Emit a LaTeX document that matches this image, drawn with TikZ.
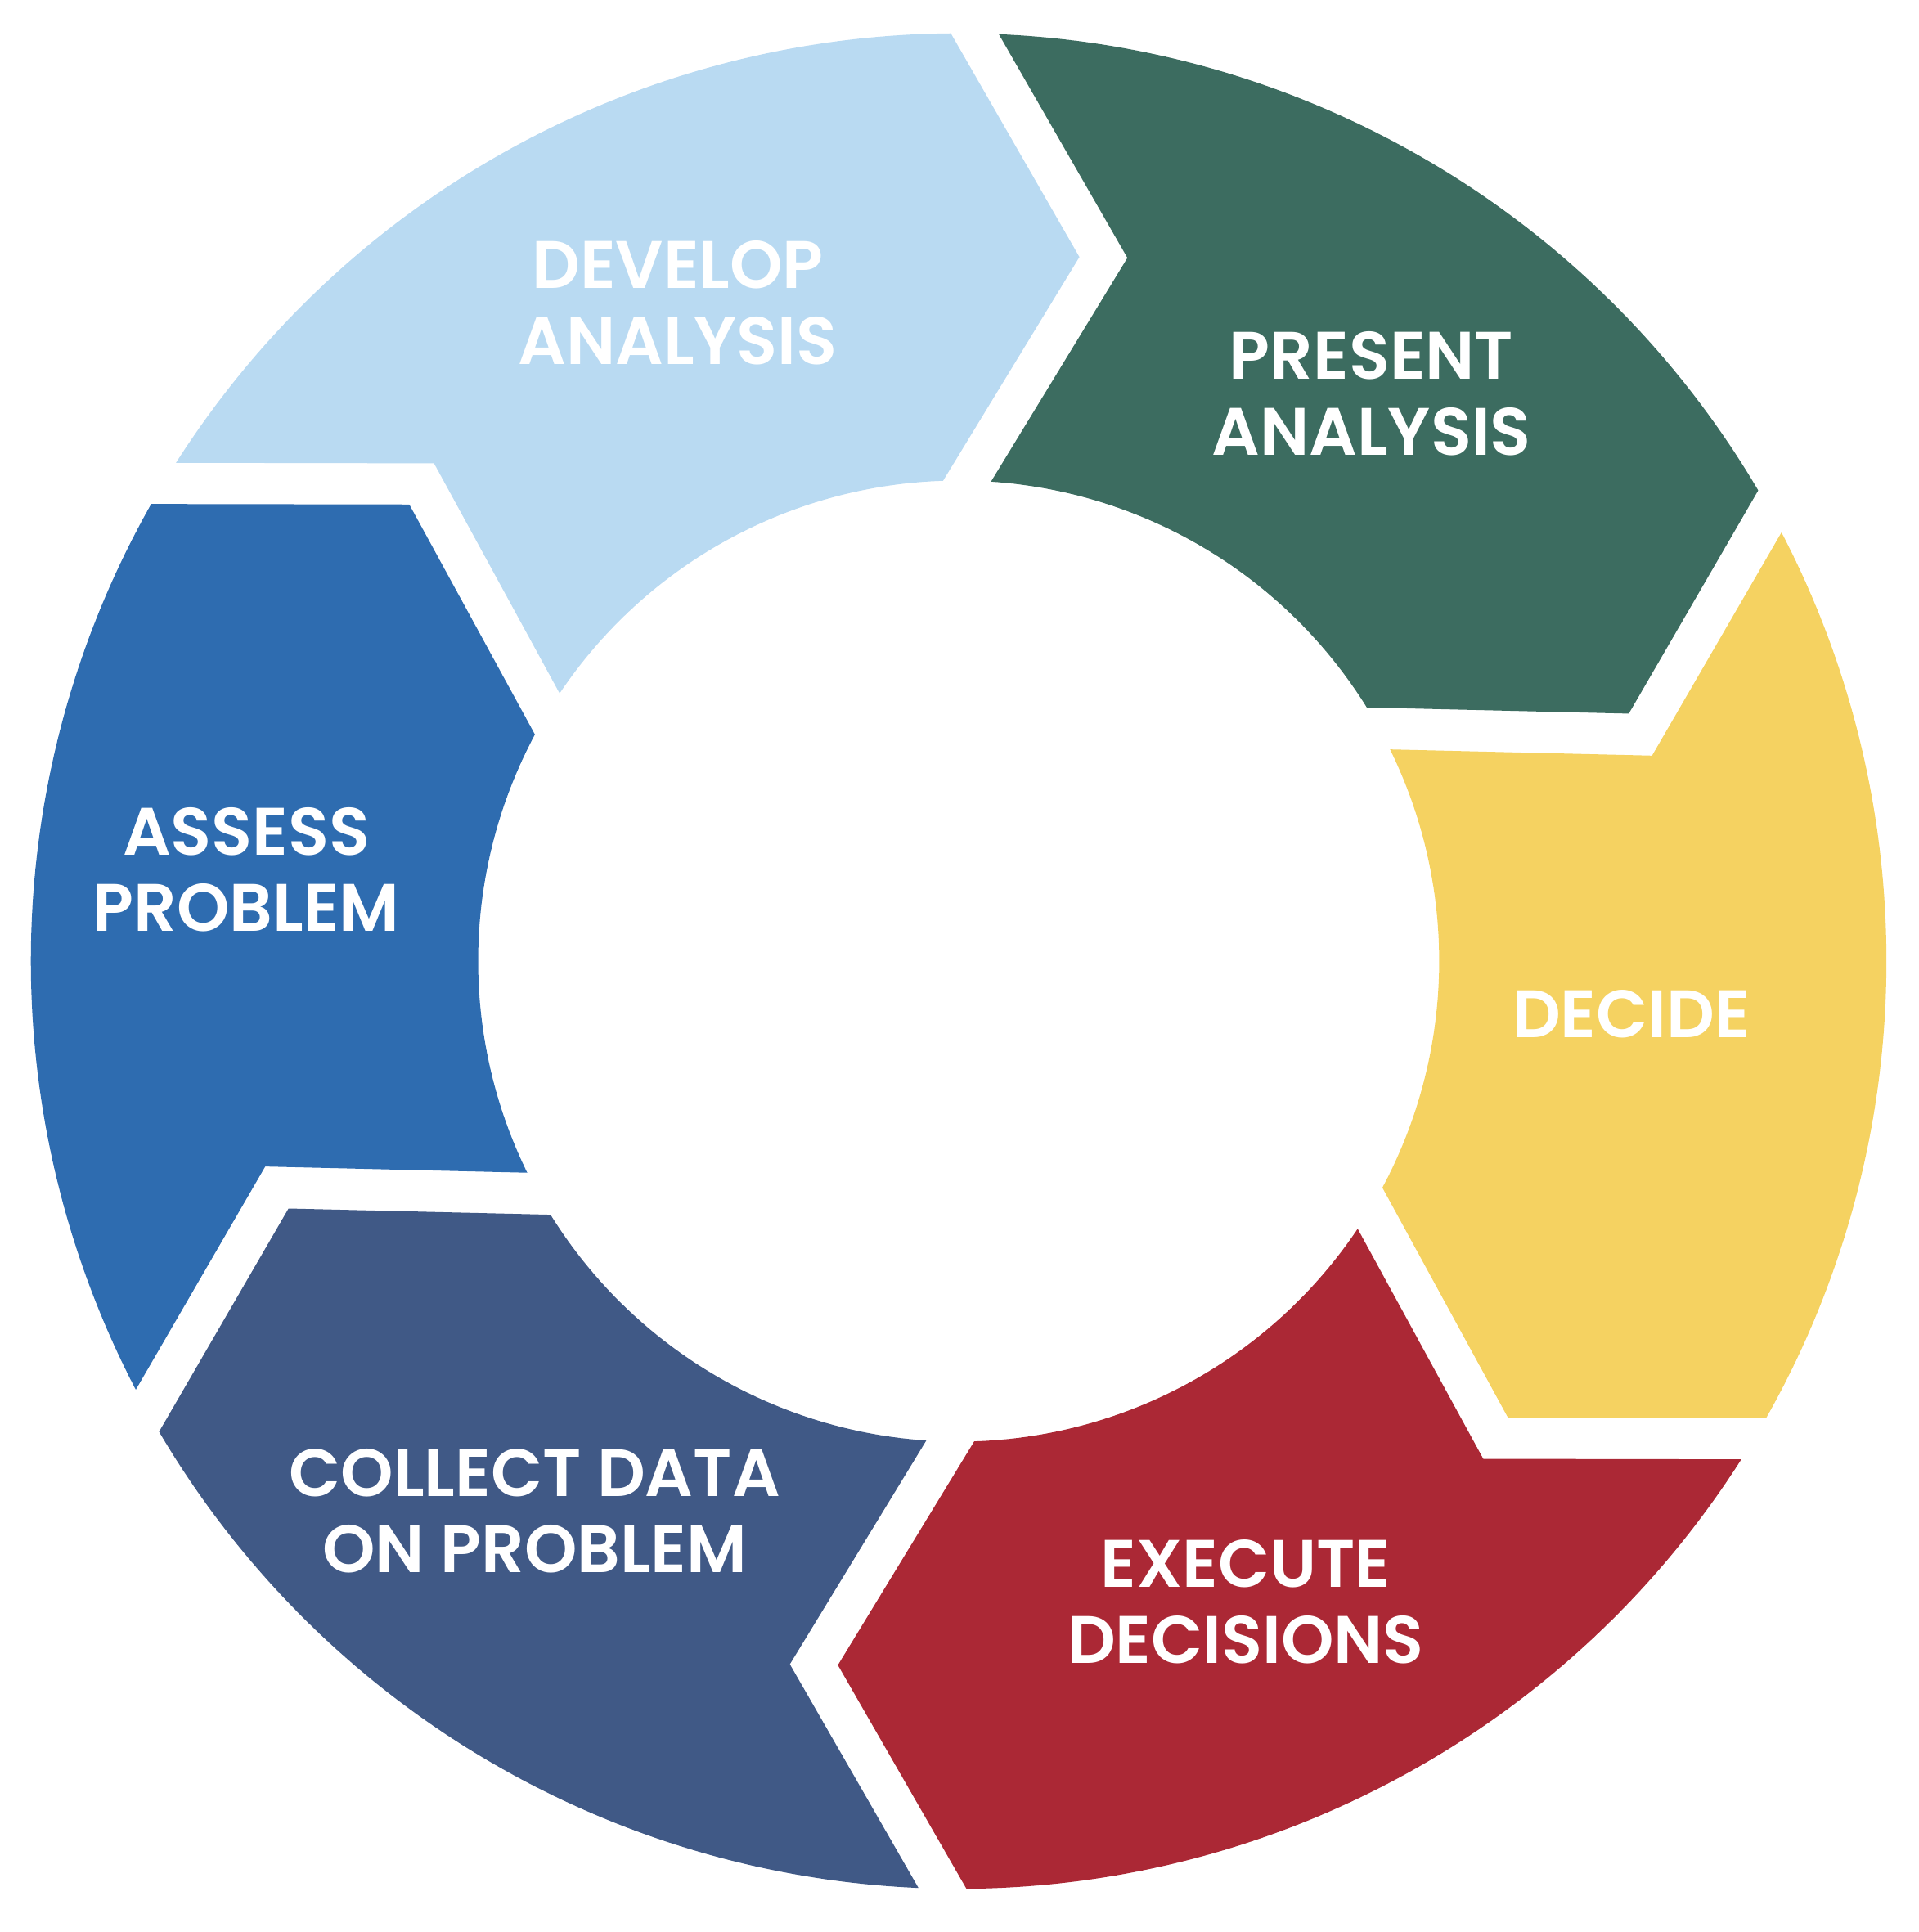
\documentclass[tikz,border=0pt]{standalone}
\usepackage{fontspec}
\setmainfont{Poppins}[BoldFont={Poppins SemiBold}]
\usepackage{xcolor}
\usepackage{tikz}
\usetikzlibrary{positioning}
\definecolor{azul}{HTML}{2E6CB0}
\definecolor{azulclaro}{HTML}{B9DAF2}
\definecolor{verde}{HTML}{3C6C60}
\definecolor{amarelo}{HTML}{F5D261}
\definecolor{vermelho}{HTML}{AB2835}
\definecolor{marinho}{HTML}{405986}
\tikzset{
  etapa/.style={fill=#1, draw=none},
  rotulo/.style={text=white, align=center, inner sep=0pt, font=\bfseries\fontsize{15.5}{17.6}\selectfont},
}
% raios do anel, folga e ponta
\newcommand{\Ro}{7.53}
\newcommand{\Ri}{3.90}
\newcommand{\Rm}{5.73}
\newcommand{\folga}{0.39}
\newcommand{\ponta}{1.075}

\begin{document}
\begin{tikzpicture}
  \useasboundingbox (-7.78,-7.88) rectangle (7.79,7.80);
  \pgfmathsetmacro{\dO}{asin(\folga/2/\Ro)}
  \pgfmathsetmacro{\dI}{asin(\folga/2/\Ri)}
  \foreach \ini/\cor in {149/azulclaro, 89/verde, 29/amarelo, -31/vermelho, -91/marinho, -151/azul}{
    \pgfmathsetmacro{\fim}{\ini-60}
    \fill[etapa=\cor] ({\ini-\dO}:\Ro) arc[start angle=\ini-\dO, end angle=\fim+\dO, radius=\Ro]
      -- ([rotate=\fim]\Rm,{\folga/2-\ponta}) -- ({\fim+\dI}:\Ri)
      arc[start angle=\fim+\dI, end angle=\ini-\dI, radius=\Ri]
      -- ([rotate=\ini]\Rm,{-\folga/2-\ponta}) -- cycle;
  }
  \node[rotulo] (avaliar) at (-5.78,0.74) {ASSESS\\PROBLEM};
  \node[rotulo] (desenv) at (-2.28,5.34) {DEVELOP\\ANALYSIS};
  \node[rotulo] (apresentar) at (3.35,4.605) {PRESENT\\ANALYSIS};
  \node[rotulo] (decidir) at (5.46,-0.43) {DECIDE};
  \node[rotulo] (executar) at (2.33,-5.20) {EXECUTE\\DECISIONS};
  \node[rotulo] (coletar) at (-3.44,-4.46) {COLLECT DATA\\ON PROBLEM};
\end{tikzpicture}
\end{document}
